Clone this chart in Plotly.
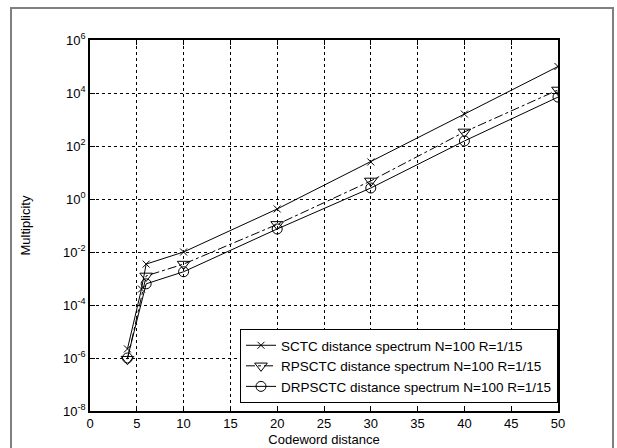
import plotly.graph_objects as go

# Data
sctc_x = [4, 5.5, 6, 10, 20, 30, 40, 50]
sctc_y = [2.2e-6, 4e-4, 3.5e-3, 1.0e-2, 0.42, 25, 1600, 1.0e5]

rpsctc_x = [4, 6, 10, 20, 30, 40, 50]
rpsctc_y = [0.9e-6, 1.25e-3, 3.5e-3, 0.11, 4.8, 340, 1.3e4]

drpsctc_x = [4, 6, 10, 20, 30, 40, 50]
drpsctc_y = [1.0e-6, 6.3e-4, 1.8e-3, 0.074, 2.6, 155, 7.0e3]

names = ["SCTC distance spectrum N=100 R=1/15",
         "RPSCTC distance spectrum N=100 R=1/15",
         "DRPSCTC distance spectrum N=100 R=1/15"]

y_tickvals = [1e-8, 1e-6, 1e-4, 1e-2, 1e0, 1e2, 1e4, 1e6]
y_ticktext = ["10<sup>-8</sup>", "10<sup>-6</sup>", "10<sup>-4</sup>", "10<sup>-2</sup>",
              "10<sup>0</sup>", "10<sup>2</sup>", "10<sup>4</sup>", "10<sup>6</sup>"]

FONT = "Arial, Liberation Sans, sans-serif"

fig = go.Figure()
fig.add_trace(go.Scatter(
    x=sctc_x, y=sctc_y, name=names[0], mode="lines+markers",
    line=dict(color="black", width=1),
    marker=dict(symbol="x-thin-open", size=7, color="black", line=dict(color="black", width=1)),
))
fig.add_trace(go.Scatter(
    x=rpsctc_x, y=rpsctc_y, name=names[1], mode="lines+markers",
    line=dict(color="black", width=1, dash="dashdot"),
    marker=dict(symbol="triangle-down-open", size=11, color="black", line=dict(color="black", width=1)),
))
fig.add_trace(go.Scatter(
    x=drpsctc_x, y=drpsctc_y, name=names[2], mode="lines+markers",
    line=dict(color="black", width=1),
    marker=dict(symbol="circle-open", size=10, color="black", line=dict(color="black", width=1)),
))

W, H = 617, 448
L, T = 90, 40
pw, ph = 468, 371
R = W - L - pw
B = H - T - ph

# Outer gray frame
fig.add_shape(type="rect", xref="paper", yref="paper",
              x0=(11 - L) / pw, x1=(613 - L) / pw,
              y0=(T + ph - 470) / ph, y1=(T + ph - 8) / ph,
              line=dict(color="#808080", width=2), fillcolor="rgba(0,0,0,0)", layer="below")

fig.update_layout(
    width=W, height=H,
    margin=dict(l=L, r=R, t=T, b=B, autoexpand=False),
    paper_bgcolor="white", plot_bgcolor="white",
    font=dict(family=FONT, size=13, color="black"),
    showlegend=True,
    legend=dict(x=1.0, y=8 / ph, xanchor="right", yanchor="bottom",
                bgcolor="white", bordercolor="black", borderwidth=1,
                font=dict(family=FONT, size=13.5, color="black"),
                tracegroupgap=0, itemwidth=30),
)
fig.update_xaxes(
    range=[0, 50], dtick=5, tick0=0, automargin=False,
    showline=True, linecolor="black", linewidth=1.5, mirror="ticks",
    ticks="inside", ticklen=5, tickcolor="black",
    showgrid=True, gridcolor="black", gridwidth=1, griddash="dot",
    zeroline=False,
    title=dict(text="Codeword distance", standoff=5, font=dict(family=FONT, size=13)),
    tickfont=dict(family=FONT, size=13),
)
fig.update_yaxes(
    type="log", range=[-8, 6], automargin=False,
    tickvals=y_tickvals, ticktext=y_ticktext,
    showline=True, linecolor="black", linewidth=1.5, mirror="ticks",
    ticks="inside", ticklen=5, tickcolor="black",
    showgrid=True, gridcolor="black", gridwidth=1, griddash="dot",
    zeroline=False,
    title=dict(text="Multiplicity", standoff=30, font=dict(family=FONT, size=13)),
    tickfont=dict(family=FONT, size=13),
)

# Remove the default page margin so the figure fills the 617x448 window exactly
post = """
var de=document.documentElement, b=document.body;
b.style.margin='0'; b.style.padding='0';
de.style.overflow='hidden'; b.style.overflow='hidden';
"""

fig.write_html("out.html", config={"displayModeBar": False}, post_script=post)
